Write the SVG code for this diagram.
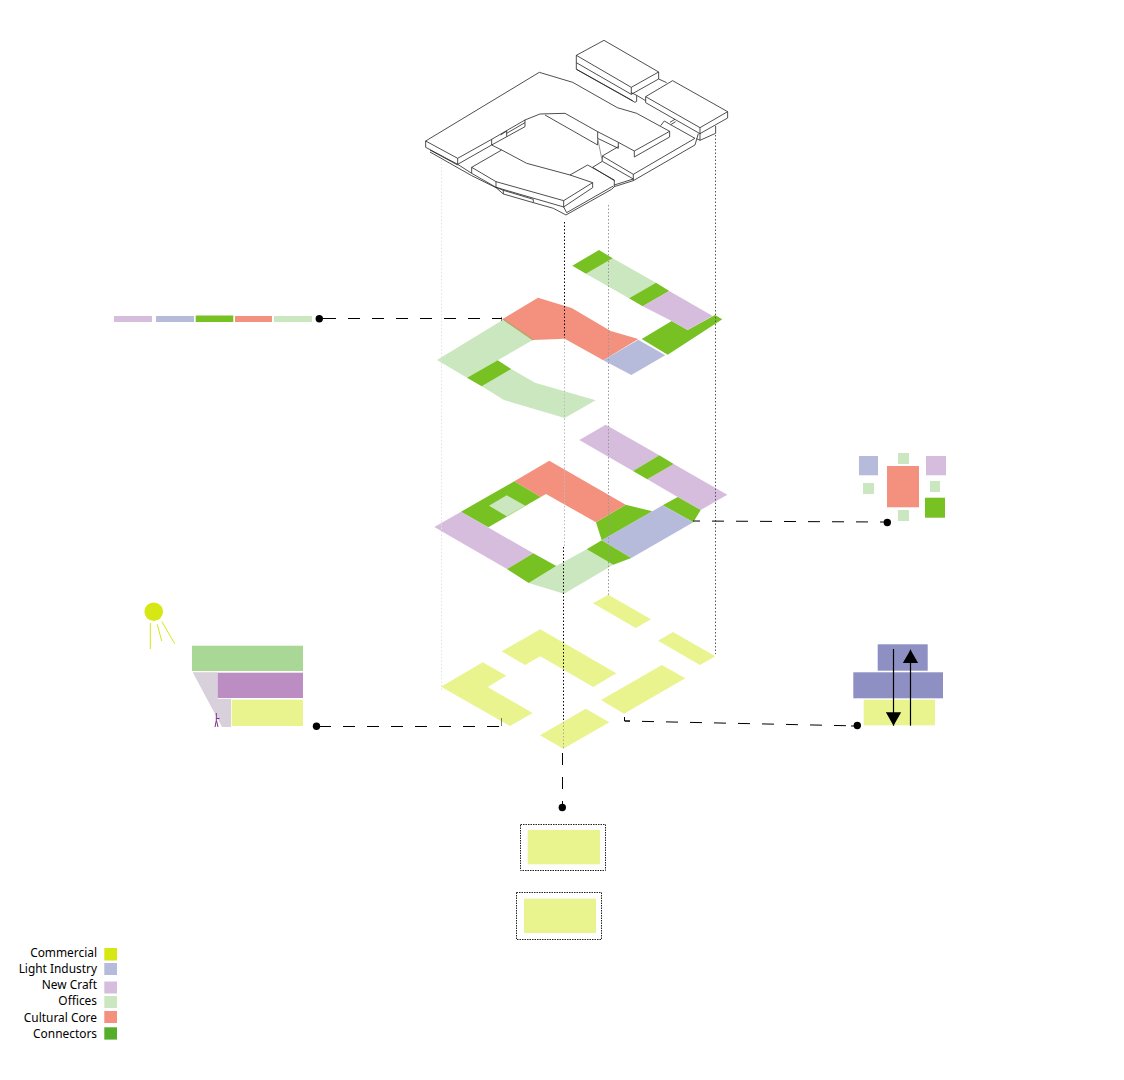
<svg xmlns="http://www.w3.org/2000/svg" width="1124" height="1080" viewBox="0 0 1124 1080">
<style>
.off{fill:#cbe7bf}.nc{fill:#d6bddd}.con{fill:#78c123}.cul{fill:#f3917e}.li{fill:#b6bbdc}.com{fill:#e9f48f}
.bl{fill:#8e8fc3}
.b{fill:none;stroke:#222;stroke-width:2.400;stroke-linejoin:round}
.dash{fill:none;stroke:#000;stroke-width:1;stroke-dasharray:12 12}
.stub{fill:none;stroke:#000;stroke-width:1}
.v{fill:none;stroke-width:1;stroke-dasharray:1.500 2}
.box{fill:none;stroke:#222;stroke-width:1;stroke-dasharray:1.500 1}
.ray{stroke:#d6e813;stroke-width:1}
text{font-family:"Noto Sans","Open Sans",sans-serif;font-size:11.900px;fill:#000;text-anchor:end}
</style>
<defs>
<marker id="head" markerUnits="userSpaceOnUse" markerWidth="16" markerHeight="16" refX="13.500" refY="8" orient="auto"><path d="M0 0.300L13.500 8L0 15.700Z" fill="#000"/></marker>
</defs>

<g id="building" transform="translate(410 30) scale(.3333)">
<path class="b" d="M47 333L388 127L488 157L622 233L680 250L779 304L673 363L625 337L563 305L465 250L390 252L345 270L245 328L143 385Z"/>
<path class="b" d="M47 333V352L143 403V385M143 403L245 345V328M673 363V381L779 321V304"/>
<path class="b" d="M499 76L582 31L746 126L664 172ZM499 76V98L664 193V172M664 193L746 147V126M499 98V118L675 217L680 214V196L664 188M500 118L668 212"/>
<path class="b" d="M707 200L788 152L953 245L870 293ZM707 200V218L870 311V293M870 311L953 264V245M870 311V331L917 310V288M870 331L860 326M680 196L707 212M746 147L770 158"/>
<path class="b" d="M752 287L763 273L782 284L855 325L670 433V452L855 345L865 311M780 277L795 268M782 284L797 275"/>
<path class="b" d="M625 350L577 378V394L670 447M577 378L670 433M563 305V345M625 337V355L563 325M405 255L563 345"/>
<path d="M563 325L577 394" fill="none" stroke="#999" stroke-width="3"/>
<path class="b" d="M345 270V290L245 345M272 315L290 303V320M290 310L345 278M245 345L275 360L350 400L480 435"/>
<path class="b" d="M143 403L185 430M185 412L275 360M185 412L258 455L461 512L548 458L480 435L533 405L613 450V470M548 458V473L461 531V512M258 455V472L461 531M185 412V430L258 472"/>
<path class="b" d="M577 394L548 412L613 452M613 465L670 447M613 470L670 452"/>
<path class="b" d="M60 360L143 405M60 366L185 437L258 473L280 492L370 518L430 535L468 555L605 478L613 470M258 472L280 481L370 508V518M280 481V492M461 531L470 548L610 468"/>
</g>

<g id="floor-3">
<path class="off" d="M437 360L502.700 320L533.300 339.700L497.700 360.300L467 377.700Z"/>
<path class="off" d="M481.700 386.300L511.300 369L535 382.700L595.700 400.300L564.700 418L504 400Z"/>
<path class="off" d="M586 273.700L612.700 258.300L656 282.700L629 298.300Z"/>
<path class="cul" d="M502.700 319L538 297.700L571.700 308L610.700 331L638.300 339L603.300 360.300L564.700 338.700L533.300 340Z"/>
<path d="M502.700 319L533.300 340" stroke="#b9a36c" stroke-width="1.500" fill="none"/>
<path class="con" d="M572.300 265.700L599 250L612.700 258.300L586 273.700Z"/>
<path class="con" d="M629 298.300L656 282.700L669.300 291L642.700 306.300Z"/>
<path class="con" d="M641.700 339L671.700 321L687.700 330L715 315L722.300 319.300L667.700 354.700Z"/>
<path class="con" d="M467 377.700L497.700 360.300L511.300 369L481.700 386.300Z"/>
<path class="nc" d="M642.700 306.300L669.300 291L712.700 316L687.700 330L671.700 321Z"/>
<path class="li" d="M603.300 360.300L638.300 339.700L665.300 355.300L631.300 375Z"/>
</g>

<g id="floor-2">
<path class="nc" d="M579.300 440L605.700 424.700L659.300 455.300L633 471Z"/>
<path class="nc" d="M647.300 479.300L673.700 464L727.300 494.700L700.700 510L677.700 497Z"/>
<path class="nc" d="M434.300 527L461 511.700L533.300 553.300L507 569Z"/>
<path class="con" d="M633 471L659.300 455.300L673.700 464L647.300 479.300Z"/>
<path class="con" d="M662.700 505.300L677.700 497L700.700 510L693.300 522.300Z"/>
<path class="li" d="M601.700 540.300L662.700 505.300L693.300 522.300L631.300 558Z"/>
<path class="con" d="M596 522.300L625.700 504.700L652.300 511.300L601.700 540.300Z"/>
<path class="cul" d="M514.300 481.300L549.300 460.700L625.700 504.700L596 522.300L546 494L540.700 497Z"/>
<path class="con" d="M461 511.700L514.300 481.300L540.700 497L488.300 527.300Z"/>
<path class="off" d="M489 505.700L506.700 495.300L525.300 505.700L506.700 516.300Z"/>
<path class="off" d="M528.700 583L556.300 566L586.700 549.300L613.300 564.700L564 593.700Z"/>
<path class="con" d="M507 569L533.300 553.300L556.300 566L528.700 583Z"/>
<path class="con" d="M586.700 549.300L601.700 540.300L631.300 558L613.300 564.700Z"/>
</g>

<g id="floor-1" class="com">
<path d="M593 603.300L608.300 594.700L651 619.300L635.700 628Z"/>
<path d="M658 640.700L673 632L715.300 656.300L700 665Z"/>
<path d="M501.700 651.300L540.300 629.300L616.300 673.300L593.300 687L540.300 656.300L525 665Z"/>
<path d="M441 686.700L482.700 662.300L506.300 675.700L487.700 687L532.700 713L510 726Z"/>
<path d="M601 700L662 665L685.300 678.300L624 713.700Z"/>
<path d="M540 735.300L585.700 708.700L609.300 722.300L563.300 748.700Z"/>
</g>

<g id="program-bar">
<rect class="nc" x="114" y="316" width="38" height="6"/>
<rect class="li" x="156" y="316" width="38" height="6"/>
<rect class="con" x="195.700" y="315.500" width="37.600" height="6.500"/>
<rect class="cul" x="235" y="316" width="37" height="6"/>
<rect class="off" x="274" y="316" width="38" height="6"/>
</g>

<g id="program-cluster">
<rect class="li" x="859" y="456" width="19" height="19.300"/>
<rect class="off" x="898" y="453" width="11" height="11"/>
<rect class="nc" x="926" y="456" width="20" height="19.300"/>
<rect class="cul" x="887" y="466" width="32" height="41.300"/>
<rect class="off" x="863" y="483" width="11" height="11"/>
<rect class="off" x="930" y="481" width="10" height="11"/>
<rect class="con" x="925" y="497.700" width="20" height="20"/>
<rect class="off" x="898" y="510" width="11" height="11"/>
</g>

<g id="section-light">
<circle cx="153.700" cy="611.700" r="9.300" fill="#d6e813"/>
<path class="ray" d="M150.300 623V649M157.300 624.300L161.700 641M161.700 621.300L174.700 643.700"/>
<rect x="192" y="645.700" width="111" height="25.300" fill="#a9d795"/>
<path d="M192.700 672.300H217.700V698.700H231V727H222Z" fill="#d8d0da"/>
<rect x="217.700" y="672.700" width="85.300" height="25.300" fill="#bc8dc3"/>
<rect class="com" x="231.700" y="699.700" width="71.300" height="26.300"/>
<path d="M216.300 713V720.500L215 727M216.500 720.500L218 727M216.300 718.500L219.500 718.500" fill="none" stroke="#7b2d8e" stroke-width="1"/>
</g>

<g id="section-circulation">
<rect class="bl" x="877.700" y="644.300" width="50" height="26.400"/>
<rect class="bl" x="853.300" y="672.300" width="89.700" height="26"/>
<rect class="com" x="863.700" y="699.700" width="71.300" height="25.600"/>
<path d="M893.500 649V725.700" stroke="#000" stroke-width="1.200" fill="none" marker-end="url(#head)"/>
<path d="M910.500 725.700V649.700" stroke="#000" stroke-width="1.200" fill="none" marker-end="url(#head)"/>
</g>

<g id="plan-top">
<rect class="box" x="520.500" y="824.500" width="85" height="46"/>
<rect class="com" x="527.700" y="830" width="72.300" height="34.300"/>
</g>
<g id="plan-bottom">
<rect class="box" x="516.500" y="892.500" width="85" height="47"/>
<rect class="com" x="524" y="898.700" width="72" height="34.300"/>
</g>

<g id="connectors">
<path class="v" stroke="#e2e2e2" d="M441.500 160V690"/>
<path class="v" stroke="#999" d="M608.500 205V595"/>
<path class="v" stroke="#555" d="M715.500 135V654"/>
<path class="v" stroke="#bbb" d="M564.500 338V547"/>
<path class="v" stroke="#000" d="M564.500 222V338M563.500 547V722"/>
<path class="v" stroke="#aaa" d="M563.500 722V748"/>
<path class="stub" d="M319 318.500H324M316 726.500H319M881 522H887M851 726H857"/>
<path class="dash" d="M324 318.500H502"/>
<path class="stub" stroke-opacity=".5" d="M501.500 317V321M501.500 718V726"/>
<path class="dash" d="M319 726.500H501"/>
<path class="dash" stroke-dashoffset="5" d="M693 521L881 522"/>
<path class="stub" d="M624.500 717V721H630"/>
<path class="dash" stroke-dashoffset="7" d="M625 721L851 725.800"/>
<path class="dash" stroke-dasharray="13 13" d="M562.500 753V805"/>
<circle cx="319.300" cy="318.700" r="3.700"/>
<circle cx="316.500" cy="726.300" r="3.700"/>
<circle cx="887.300" cy="522.500" r="3.700"/>
<circle cx="857.300" cy="725.500" r="3.700"/>
<circle cx="562.300" cy="807.500" r="3.700"/>
</g>

<g id="legend">
<text x="97" y="957">Commercial</text><rect x="104.300" y="948" width="12.700" height="12.500" fill="#d6e813"/>
<text x="97" y="973">Light Industry</text><rect x="104.300" y="963" width="12.700" height="12" fill="#b6bbdc"/>
<text x="97" y="989">New Craft</text><rect x="104.300" y="981.500" width="12.700" height="12" fill="#d6bddd"/>
<text x="97" y="1005">Offices</text><rect x="104.300" y="996" width="12.700" height="12" fill="#cbe7bf"/>
<text x="97" y="1021.500">Cultural Core</text><rect x="104.300" y="1011" width="12.700" height="12" fill="#f3917e"/>
<text x="97" y="1037.500">Connectors</text><rect x="104.300" y="1027.300" width="12.700" height="12.300" fill="#55ae2a"/>
</g>
</svg>
